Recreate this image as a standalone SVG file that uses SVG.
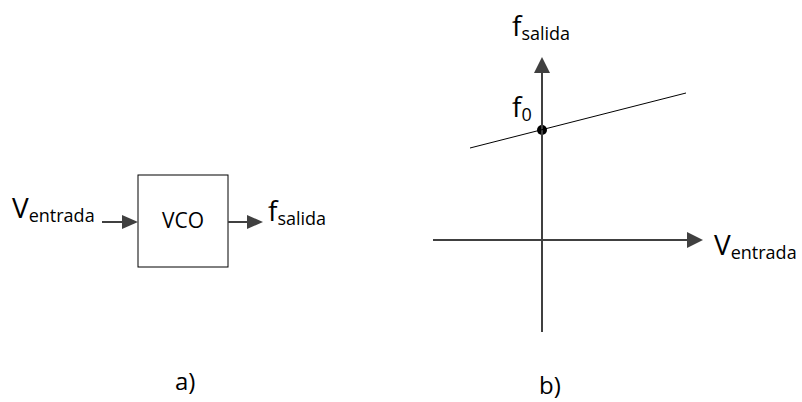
<svg xmlns="http://www.w3.org/2000/svg" width="802" height="402" viewBox="0 0 802 402">
<defs>
<style>
text{font-family:"Open Sans","Noto Sans",sans-serif;fill:#000}
.main{font-size:28px}
.sub{font-size:18px}
.lab{font-size:21px}
.cap{font-size:24px}
.ax{stroke:#404040;stroke-width:2;fill:none}
.thin{stroke:#000;stroke-width:1;fill:none}
</style>
<marker id="ah" markerUnits="userSpaceOnUse" markerWidth="16" markerHeight="16" refX="0" refY="7" orient="auto" viewBox="0 0 16 14">
<path d="M0,0 L16,7 L0,14 z" fill="#404040"/>
</marker>
<marker id="ah2" markerUnits="userSpaceOnUse" markerWidth="16" markerHeight="16" refX="0" refY="8" orient="auto" viewBox="0 0 16 16">
<path d="M0,0 L16,8 L0,16 z" fill="#404040"/>
</marker>
</defs>
<rect width="802" height="402" fill="#fff"/>

<g id="vco">
<rect x="138" y="175" width="90" height="92" fill="#fff" stroke="#000" stroke-width="1"/>
<text class="lab" x="183" y="228" text-anchor="middle">VCO</text>
</g>

<g id="input-label">
<text x="12" y="218"><tspan class="main">V</tspan><tspan class="sub" dy="4">entrada</tspan></text>
</g>

<g id="output-label">
<text x="268" y="221"><tspan class="main">f</tspan><tspan class="sub" dy="4">salida</tspan></text>
</g>

<g id="axis-y-label">
<text x="512" y="36"><tspan class="main">f</tspan><tspan class="sub" dy="4">salida</tspan></text>
</g>

<g id="f0-label">
<text x="512" y="117"><tspan class="main">f</tspan><tspan class="sub" dy="4">0</tspan></text>
</g>

<g id="axis-x-label">
<text x="714" y="255"><tspan class="main">V</tspan><tspan class="sub" dy="4">entrada</tspan></text>
</g>

<g id="f0-point">
<circle cx="542" cy="130" r="5" fill="#000"/>
</g>

<g id="connectors">
<line class="ax" x1="102" y1="222" x2="122" y2="222" marker-end="url(#ah)"/>
<line class="ax" x1="228" y1="222" x2="247" y2="222" marker-end="url(#ah)"/>
<line class="ax" x1="542" y1="332" x2="542" y2="73" marker-end="url(#ah2)"/>
<line class="ax" x1="433" y1="240" x2="687" y2="240" marker-end="url(#ah2)"/>
<line class="thin" x1="470" y1="148" x2="686" y2="93"/>
</g>

<g id="captions">
<text class="cap" x="175" y="390">a)</text>
<text class="cap" x="539" y="394">b)</text>
</g>
</svg>
